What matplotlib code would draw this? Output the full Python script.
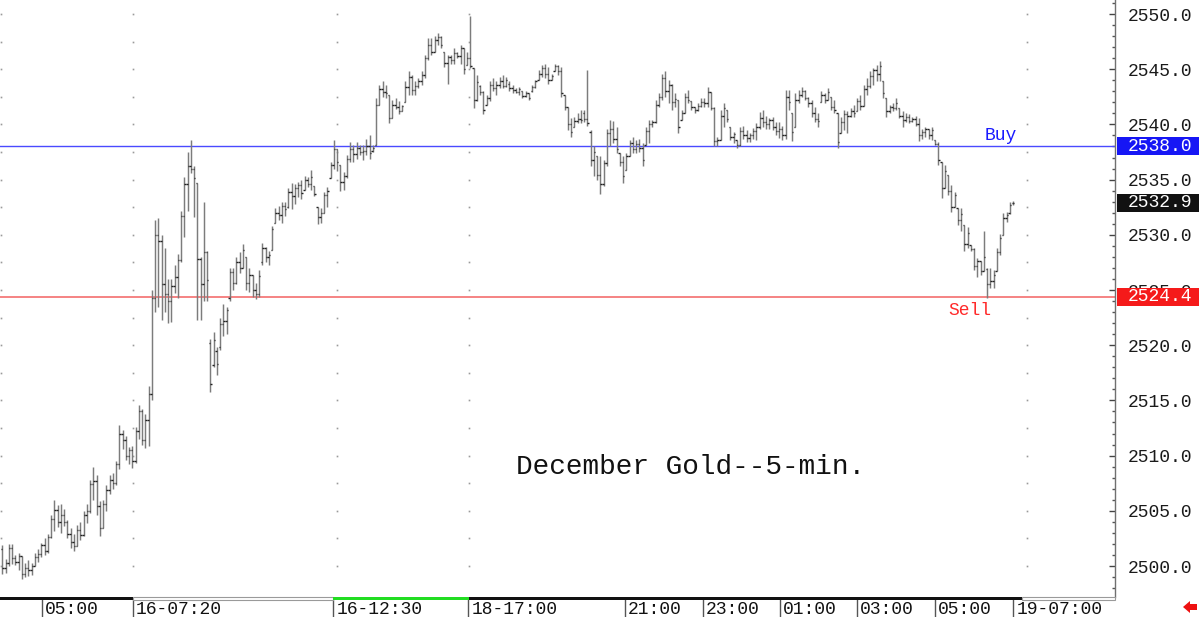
import matplotlib
matplotlib.use("Agg")
import matplotlib.pyplot as plt
import matplotlib.transforms as mtransforms
from matplotlib.collections import LineCollection
from matplotlib.patches import Rectangle, Polygon
from matplotlib.lines import Line2D
from matplotlib.ticker import MultipleLocator
import numpy as np

# ---------------- data (5-min OHLC bars) ----------------
opens = [
    2501.5, 2499.8, 2500.3, 2501.6, 2500.7, 2500.4, 2500.9, 2499.3, 2499.8, 2499.6, 2500.0, 2500.8,
    2501.1, 2501.9, 2501.4, 2502.6, 2504.3, 2505.1, 2504.0, 2504.6, 2504.0, 2502.9, 2502.2, 2501.8,
    2503.3, 2502.8, 2504.6, 2505.0, 2507.4, 2507.7, 2505.4, 2503.4, 2505.6, 2506.9, 2507.8, 2507.5,
    2509.2, 2512.0, 2511.4, 2510.0, 2510.5, 2509.5, 2512.2, 2514.0, 2511.4, 2513.2, 2515.6, 2524.3,
    2530.0, 2529.4, 2525.5, 2524.6, 2524.0, 2525.4, 2526.2, 2527.7, 2531.7, 2534.6, 2536.2, 2536.0,
    2534.7, 2527.8, 2525.5, 2528.4, 2520.2, 2518.2, 2519.5, 2519.8, 2521.9, 2522.2, 2524.3, 2526.6,
    2525.6, 2527.5, 2527.0, 2528.0, 2525.6, 2526.4, 2525.0, 2524.6, 2527.5, 2528.8, 2528.0, 2528.6,
    2531.1, 2532.0, 2531.8, 2532.6, 2532.5, 2533.9, 2533.5, 2534.2, 2534.5, 2534.1, 2535.0, 2534.6,
    2534.4, 2532.5, 2531.6, 2532.0, 2533.6, 2535.1, 2536.3, 2537.8, 2536.3, 2534.8, 2535.3, 2536.9,
    2537.8, 2537.3, 2537.9, 2537.5, 2537.6, 2538.0, 2537.6, 2538.1, 2541.8, 2543.2, 2542.9, 2542.7,
    2540.6, 2541.8, 2541.6, 2541.2, 2542.0, 2543.4, 2544.3, 2543.1, 2543.5, 2543.9, 2544.5, 2546.0,
    2547.2, 2546.6, 2547.6, 2547.9, 2546.6, 2545.6, 2546.1, 2545.8, 2546.5, 2546.2, 2546.9, 2545.4,
    2546.0, 2545.1, 2542.2, 2543.5, 2542.9, 2541.8, 2542.4, 2543.6, 2543.3, 2543.6, 2543.9, 2543.5,
    2543.7, 2543.3, 2543.1, 2542.9, 2543.0, 2542.6, 2542.8, 2543.0, 2543.4, 2544.0, 2544.6, 2545.1,
    2544.6, 2544.0, 2544.8, 2545.3, 2544.8, 2542.7, 2541.6, 2540.0, 2539.8, 2540.3, 2540.5, 2541.0,
    2540.5, 2539.3, 2536.8, 2537.1, 2535.4, 2534.6, 2536.5, 2539.2, 2539.6, 2538.7, 2537.4, 2536.6,
    2535.9, 2537.1, 2538.3, 2537.8, 2538.2, 2537.9, 2538.1, 2539.4, 2540.0, 2540.2, 2541.8, 2542.5,
    2544.2, 2543.0, 2543.6, 2542.0, 2542.2, 2540.4, 2541.0, 2542.5, 2542.1, 2541.6, 2541.3, 2541.7,
    2542.0, 2541.9, 2542.9, 2541.5, 2538.5, 2538.6, 2540.8, 2541.3, 2539.8, 2538.9, 2538.6, 2538.1,
    2539.4, 2539.0, 2538.8, 2539.0, 2539.4, 2539.8, 2540.6, 2540.2, 2540.0, 2540.4, 2539.8, 2539.4,
    2539.6, 2539.0, 2542.5, 2541.0, 2539.8, 2542.2, 2542.7, 2543.0, 2542.4, 2541.9, 2541.0, 2540.5,
    2542.0, 2542.7, 2542.2, 2542.5, 2541.6, 2541.0, 2539.2, 2540.2, 2540.9, 2540.8, 2541.2, 2541.2,
    2542.1, 2541.7, 2543.2, 2543.5, 2544.4, 2544.9, 2544.6, 2543.9, 2542.4, 2541.2, 2541.6, 2541.5,
    2541.5, 2540.8, 2540.4, 2540.7, 2540.3, 2540.5, 2540.0, 2539.0, 2539.3, 2539.6, 2539.0, 2538.6,
    2538.2, 2536.6, 2534.2, 2535.4, 2534.0, 2532.5, 2532.4, 2531.3, 2530.9, 2529.2, 2529.1, 2528.7,
    2527.2, 2527.6, 2526.7, 2526.9, 2525.5, 2525.8, 2526.7, 2528.4, 2530.0, 2531.5, 2532.0, 2532.9,
]
highs = [
    2501.9, 2500.6, 2502.0, 2502.0, 2501.0, 2501.2, 2500.9, 2500.3, 2500.5, 2500.3, 2501.2, 2501.5,
    2502.1, 2502.5, 2502.9, 2504.6, 2506.0, 2505.5, 2505.6, 2505.2, 2504.2, 2503.4, 2502.9, 2503.7,
    2504.0, 2505.0, 2505.6, 2507.8, 2509.0, 2508.2, 2505.9, 2506.0, 2507.3, 2508.2, 2508.4, 2509.5,
    2512.8, 2512.3, 2511.8, 2510.8, 2510.9, 2512.6, 2514.6, 2514.2, 2513.8, 2516.3, 2525.0, 2531.3,
    2531.5, 2530.0, 2528.8, 2526.0, 2526.0, 2527.3, 2528.3, 2532.2, 2535.2, 2537.5, 2538.6, 2536.2,
    2534.7, 2528.0, 2533.0, 2528.5, 2520.6, 2521.2, 2519.8, 2522.5, 2523.7, 2523.5, 2527.0, 2527.0,
    2528.0, 2528.4, 2529.2, 2528.0, 2527.0, 2526.4, 2525.6, 2526.8, 2529.3, 2528.9, 2528.5, 2530.8,
    2532.4, 2532.6, 2533.0, 2533.0, 2534.2, 2534.7, 2534.6, 2534.8, 2535.0, 2535.3, 2535.2, 2535.9,
    2534.4, 2532.5, 2532.4, 2533.9, 2534.3, 2536.6, 2538.6, 2537.8, 2536.3, 2535.7, 2537.2, 2538.4,
    2538.1, 2538.4, 2538.1, 2538.1, 2538.7, 2539.0, 2538.1, 2542.4, 2543.6, 2543.9, 2543.6, 2542.7,
    2542.2, 2542.4, 2542.1, 2541.8, 2543.9, 2544.8, 2544.5, 2543.9, 2544.2, 2544.8, 2546.3, 2547.8,
    2547.8, 2548.0, 2548.3, 2548.0, 2546.6, 2546.3, 2546.3, 2546.9, 2546.6, 2547.2, 2546.9, 2546.6,
    2549.8, 2545.1, 2544.5, 2543.6, 2543.0, 2542.7, 2543.9, 2544.2, 2543.9, 2544.3, 2544.5, 2544.3,
    2543.9, 2543.6, 2543.3, 2543.4, 2543.0, 2543.0, 2542.8, 2543.6, 2544.0, 2544.9, 2545.4, 2545.5,
    2545.2, 2544.6, 2545.5, 2545.4, 2545.2, 2542.7, 2541.6, 2540.6, 2540.7, 2541.0, 2541.3, 2541.3,
    2544.9, 2539.5, 2538.0, 2537.1, 2537.1, 2536.8, 2539.6, 2540.4, 2540.3, 2539.8, 2537.4, 2537.1,
    2537.4, 2538.6, 2538.9, 2538.6, 2538.7, 2538.3, 2539.8, 2540.4, 2540.4, 2542.2, 2542.8, 2544.6,
    2544.8, 2544.0, 2543.7, 2542.8, 2542.2, 2541.3, 2542.8, 2543.1, 2542.1, 2541.6, 2541.9, 2542.4,
    2542.4, 2543.4, 2542.9, 2541.6, 2538.9, 2541.3, 2541.9, 2541.3, 2539.8, 2539.3, 2538.6, 2539.8,
    2539.9, 2539.5, 2539.2, 2539.7, 2540.1, 2541.1, 2541.3, 2540.8, 2540.6, 2540.7, 2540.2, 2540.2,
    2539.9, 2543.1, 2543.1, 2541.0, 2542.8, 2543.1, 2543.4, 2543.1, 2542.5, 2542.2, 2541.6, 2541.0,
    2543.0, 2542.8, 2543.3, 2542.5, 2542.2, 2541.0, 2540.7, 2541.3, 2541.2, 2541.5, 2541.8, 2542.4,
    2542.7, 2543.6, 2544.2, 2544.8, 2545.1, 2545.4, 2545.7, 2543.9, 2542.4, 2541.8, 2541.9, 2542.4,
    2541.5, 2541.2, 2541.0, 2540.9, 2540.7, 2540.8, 2540.6, 2539.6, 2539.8, 2539.6, 2539.8, 2538.6,
    2538.4, 2536.6, 2536.3, 2535.4, 2534.5, 2533.9, 2532.4, 2532.4, 2530.9, 2530.7, 2529.1, 2528.8,
    2527.9, 2527.6, 2530.3, 2527.0, 2527.0, 2526.8, 2528.8, 2530.1, 2532.0, 2532.1, 2533.0, 2533.1,
]
lows = [
    2499.3, 2499.4, 2500.0, 2500.2, 2500.1, 2499.6, 2498.8, 2499.0, 2499.1, 2499.2, 2500.0, 2500.4,
    2500.8, 2501.0, 2501.2, 2502.5, 2503.2, 2503.5, 2503.0, 2503.6, 2502.5, 2501.6, 2501.4, 2501.8,
    2502.4, 2502.7, 2503.9, 2504.8, 2506.0, 2504.6, 2502.7, 2503.4, 2505.0, 2506.5, 2507.0, 2507.3,
    2508.8, 2510.6, 2509.6, 2509.2, 2508.9, 2509.3, 2511.5, 2511.0, 2510.7, 2510.9, 2515.0, 2523.0,
    2523.5, 2522.3, 2523.0, 2522.0, 2522.1, 2524.7, 2524.3, 2527.5, 2529.8, 2532.2, 2535.6, 2531.6,
    2522.3, 2522.3, 2524.0, 2524.0, 2515.8, 2518.0, 2517.3, 2519.6, 2520.8, 2521.0, 2524.0, 2525.0,
    2525.5, 2526.5, 2527.0, 2525.0, 2524.8, 2524.4, 2524.2, 2524.4, 2527.3, 2527.5, 2527.3, 2528.6,
    2531.1, 2531.3, 2531.1, 2531.7, 2532.4, 2532.3, 2532.8, 2533.4, 2533.2, 2534.1, 2534.3, 2534.1,
    2533.5, 2531.0, 2531.1, 2532.0, 2532.5, 2535.1, 2536.0, 2535.8, 2534.0, 2534.1, 2535.1, 2536.6,
    2536.6, 2536.9, 2537.2, 2536.8, 2537.2, 2536.9, 2537.5, 2538.1, 2541.8, 2542.5, 2542.4, 2540.1,
    2540.6, 2541.4, 2540.9, 2541.2, 2542.0, 2542.7, 2542.7, 2542.7, 2543.3, 2543.6, 2544.2, 2545.8,
    2546.3, 2546.6, 2547.2, 2546.9, 2545.2, 2543.7, 2545.5, 2545.5, 2546.0, 2545.5, 2544.6, 2545.4,
    2545.1, 2541.5, 2542.1, 2542.7, 2540.9, 2541.8, 2542.1, 2543.0, 2542.7, 2543.3, 2543.3, 2543.4,
    2543.0, 2542.8, 2542.8, 2542.7, 2542.4, 2542.5, 2542.2, 2542.9, 2543.3, 2544.0, 2544.3, 2544.2,
    2543.7, 2544.0, 2544.8, 2544.5, 2542.5, 2541.3, 2539.5, 2538.9, 2539.8, 2540.1, 2540.1, 2540.2,
    2539.9, 2536.2, 2535.3, 2535.0, 2533.7, 2534.4, 2536.2, 2538.0, 2538.3, 2537.4, 2536.2, 2534.7,
    2535.9, 2537.1, 2537.4, 2537.4, 2537.5, 2536.2, 2538.1, 2538.3, 2539.8, 2540.1, 2541.6, 2542.2,
    2542.5, 2541.9, 2541.3, 2541.6, 2539.2, 2540.4, 2541.0, 2541.9, 2541.3, 2541.0, 2541.2, 2541.6,
    2541.6, 2541.6, 2541.3, 2538.0, 2538.0, 2538.6, 2539.8, 2540.2, 2538.6, 2538.3, 2537.9, 2538.0,
    2538.7, 2538.4, 2538.4, 2538.7, 2538.6, 2539.6, 2539.8, 2539.6, 2539.6, 2539.5, 2539.0, 2538.8,
    2538.6, 2538.7, 2541.3, 2538.5, 2539.8, 2541.9, 2542.5, 2542.2, 2541.6, 2540.7, 2540.2, 2539.8,
    2542.0, 2541.9, 2542.2, 2541.3, 2541.0, 2537.9, 2539.2, 2539.5, 2539.2, 2540.7, 2540.7, 2541.2,
    2541.3, 2541.7, 2542.7, 2543.3, 2543.6, 2543.9, 2543.9, 2542.4, 2540.7, 2541.0, 2541.2, 2541.3,
    2540.6, 2539.8, 2540.2, 2540.1, 2540.2, 2539.9, 2538.5, 2538.7, 2538.9, 2538.7, 2538.6, 2538.1,
    2536.3, 2533.3, 2534.2, 2533.6, 2532.1, 2532.5, 2530.9, 2530.3, 2528.5, 2528.8, 2528.5, 2526.8,
    2526.2, 2526.4, 2526.7, 2524.3, 2525.2, 2525.2, 2526.7, 2528.2, 2530.0, 2531.2, 2531.9, 2532.7,
]
closes = [
    2499.8, 2500.3, 2501.6, 2500.7, 2500.4, 2500.9, 2499.3, 2499.8, 2499.6, 2500.0, 2500.8, 2501.1,
    2501.9, 2501.4, 2502.6, 2504.3, 2505.1, 2504.0, 2504.6, 2504.0, 2502.9, 2502.2, 2501.8, 2503.3,
    2502.8, 2504.6, 2505.0, 2507.4, 2507.7, 2505.4, 2503.4, 2505.6, 2506.9, 2507.8, 2507.5, 2509.2,
    2512.0, 2511.4, 2510.0, 2510.5, 2509.5, 2512.2, 2514.0, 2511.4, 2513.2, 2515.6, 2524.3, 2530.0,
    2529.4, 2525.5, 2524.6, 2524.0, 2525.4, 2526.2, 2527.7, 2531.7, 2534.6, 2536.2, 2536.0, 2535.1,
    2527.8, 2525.5, 2528.4, 2525.9, 2516.5, 2520.5, 2518.3, 2521.9, 2522.2, 2523.2, 2526.6, 2525.6,
    2527.5, 2527.0, 2528.6, 2525.6, 2526.4, 2525.0, 2524.6, 2526.3, 2528.8, 2528.0, 2528.2, 2530.5,
    2532.0, 2531.8, 2532.6, 2532.3, 2533.9, 2533.5, 2534.2, 2534.5, 2533.8, 2535.0, 2534.6, 2535.2,
    2533.7, 2531.6, 2532.0, 2533.6, 2534.0, 2536.3, 2537.8, 2536.6, 2534.8, 2535.3, 2536.9, 2537.8,
    2537.3, 2537.9, 2537.5, 2537.6, 2538.0, 2537.4, 2537.9, 2541.8, 2543.2, 2542.9, 2542.8, 2540.6,
    2541.8, 2541.6, 2541.2, 2541.7, 2543.4, 2544.3, 2543.1, 2543.5, 2543.9, 2544.5, 2546.0, 2547.2,
    2546.6, 2547.6, 2547.9, 2547.2, 2545.6, 2546.1, 2545.8, 2546.5, 2546.2, 2546.9, 2545.0, 2546.0,
    2545.3, 2542.2, 2543.8, 2542.9, 2541.3, 2542.4, 2543.6, 2543.3, 2543.6, 2543.9, 2543.5, 2544.0,
    2543.3, 2543.1, 2542.9, 2543.2, 2542.6, 2542.8, 2542.4, 2543.4, 2543.9, 2544.6, 2545.1, 2544.6,
    2544.0, 2544.4, 2545.3, 2544.8, 2542.8, 2541.6, 2540.0, 2539.3, 2540.3, 2540.5, 2540.4, 2540.5,
    2540.1, 2536.8, 2537.5, 2535.4, 2534.6, 2536.5, 2539.2, 2539.6, 2538.7, 2537.8, 2536.6, 2535.3,
    2537.1, 2538.3, 2537.8, 2538.2, 2537.9, 2536.8, 2539.4, 2540.0, 2540.2, 2541.8, 2542.5, 2544.2,
    2543.0, 2543.6, 2542.0, 2542.3, 2539.8, 2541.0, 2542.5, 2542.2, 2541.6, 2541.3, 2541.7, 2542.0,
    2541.9, 2542.9, 2541.5, 2538.5, 2538.6, 2540.8, 2541.5, 2540.5, 2538.9, 2539.1, 2538.1, 2539.4,
    2539.0, 2538.8, 2539.0, 2539.4, 2539.8, 2540.6, 2540.2, 2540.0, 2540.4, 2539.8, 2539.4, 2539.6,
    2539.0, 2542.5, 2542.0, 2539.3, 2542.2, 2542.7, 2543.0, 2542.4, 2541.9, 2541.0, 2540.5, 2540.3,
    2542.7, 2542.2, 2542.9, 2541.6, 2541.3, 2538.4, 2540.2, 2540.9, 2540.8, 2541.2, 2541.0, 2542.1,
    2541.7, 2543.2, 2543.5, 2544.4, 2544.9, 2544.6, 2545.3, 2542.8, 2541.2, 2541.6, 2541.5, 2541.9,
    2540.8, 2540.4, 2540.7, 2540.3, 2540.5, 2540.0, 2539.0, 2539.3, 2539.6, 2539.0, 2539.5, 2538.2,
    2536.8, 2534.2, 2535.8, 2534.0, 2532.5, 2533.6, 2531.3, 2531.9, 2529.2, 2530.2, 2528.7, 2527.2,
    2527.6, 2526.7, 2528.0, 2525.5, 2525.8, 2526.4, 2528.4, 2529.7, 2531.5, 2531.8, 2532.7, 2532.9,
]

buy_level = 2538.0
sell_level = 2524.4
y_ticks = [2500, 2505, 2510, 2515, 2520, 2525, 2530, 2535, 2540, 2545, 2550]
x_tick_labels = ["05:00", "16-07:20", "16-12:30", "18-17:00", "21:00",
                 "23:00", "01:00", "03:00", "05:00", "19-07:00"]
x_tick_bars = [12.2, 40.2, 101.8, 143.3, 191.6, 215.6, 239.3, 263.0, 287.0, 311.0]
title_text = "December Gold--5-min."

# ---------------- figure ----------------
W, H = 1200, 617
MONO = ["Liberation Mono", "DejaVu Sans Mono"]
fig = plt.figure(figsize=(W / 100, H / 100), dpi=100)
fig.patch.set_facecolor("white")

PLOT_R = 1115   # px, right edge of plot area
PLOT_B = 597    # px (from top), bottom of plot area
ax = fig.add_axes([0, (H - PLOT_B) / H, PLOT_R / W, PLOT_B / H])
ax.set_facecolor("white")

# bar index -> pixel: x = 2.25 + 3.25*i
ax.set_xlim((0 - 2.25) / 3.25, (PLOT_R - 2.25) / 3.25)
ax.set_ylim(2500 - 31 / 11.04, 2550 + 14 / 11.04)

# faint dotted grid columns
grid_cols = [-0.45, 40.2, 103.0, 143.6, 315.3]
grid_levels = np.arange(2500, 2551, 2.5)
for gx in grid_cols:
    ax.plot([gx] * len(grid_levels), grid_levels, ls="none", marker="s",
            ms=1.2, mew=0, color="#9a9a9a", zorder=1)

# reference lines
ax.axhline(buy_level, color="#4a4aff", lw=1.0, zorder=2)
ax.axhline(sell_level, color="#f47a7a", lw=1.3, zorder=2)

# OHLC bars
idx = np.arange(len(closes))
vsegs = [[(i, l), (i, h)] for i, l, h in zip(idx, lows, highs)]
tsegs = [[(i - 0.42, o), (i, o)] for i, o in zip(idx, opens)] + \
        [[(i, c), (i + 0.42, c)] for i, c in zip(idx, closes)]
ax.add_collection(LineCollection(vsegs, colors="#7c7c7c", linewidths=1.05, zorder=3))
ax.add_collection(LineCollection(tsegs, colors="#222222", linewidths=1.0, zorder=4))

# Buy / Sell annotations and title
ax.text(307.3, buy_level + 1.0, "Buy", color="#1a1aff", fontsize=13,
        family=MONO, ha="center", va="center", zorder=5)
ax.text(297.8, sell_level - 1.3, "Sell", color="#ff2a2a", fontsize=13,
        family=MONO, ha="center", va="center", zorder=5)
ax.text(691 / PLOT_R, 1 - 467 / PLOT_B, title_text, transform=ax.transAxes,
        fontsize=20, family=MONO, color="#111111", ha="center", va="center")

# axes styling
for s in ("top", "left", "bottom"):
    ax.spines[s].set_visible(False)
ax.spines["right"].set_color("#707070")
ax.spines["right"].set_linewidth(1.0)
ax.set_xticks([])
ax.yaxis.tick_right()
ax.set_yticks(y_ticks)
ax.set_yticklabels([f"{v:.1f}" for v in y_ticks], family=MONO, fontsize=13, color="#1a1a1a")
ax.yaxis.set_minor_locator(MultipleLocator(1))
ax.tick_params(axis="y", which="major", direction="in", length=4, width=1,
               color="#444444", pad=9, right=True, left=False)
ax.tick_params(axis="y", which="minor", direction="in", length=2.5, width=1,
               color="#555555", right=True, left=False)

# pixel transform (origin top-left)
pxT = mtransforms.Affine2D().scale(1, -1).translate(0, H).scale(1 / W, 1 / H) + fig.transFigure
bxT = mtransforms.blended_transform_factory(pxT, ax.transData)

# price boxes on the right axis
box_h = 18 / 11.04
for val, col in [(buy_level, "#1616f5"), (closes[-1], "#111111"), (sell_level, "#f51a1a")]:
    fig.add_artist(Rectangle((1117, val - box_h / 2), 82, box_h, transform=bxT,
                             facecolor=col, edgecolor="none", zorder=6))
    fig.add_artist(plt.Text(1128, val, f"{val:.1f}", transform=bxT, color="white",
                            fontsize=13, family=MONO, ha="left", va="center", zorder=7))

# bottom time strip
def strip(x0, x1, fc, ec="none", lw=0):
    fig.add_artist(Rectangle((x0, 597), x1 - x0, 3, transform=pxT, facecolor=fc,
                             edgecolor=ec, linewidth=lw, zorder=3))

strip(0, 133, "#111111")
strip(133, 333, "white", "#9a9a9a", 0.8)
strip(333, 469, "#22dd22")
strip(469, 1022, "#111111")
strip(1022, 1115, "white", "#9a9a9a", 0.8)

xtT = mtransforms.blended_transform_factory(ax.transData, pxT)
for xb, lab in zip(x_tick_bars, x_tick_labels):
    fig.add_artist(Line2D([xb, xb], [600, 617], transform=xtT, color="#555555", lw=1.0))
    fig.add_artist(plt.Text(xb + 1.0, 609, lab, transform=xtT, fontsize=13, family=MONO,
                            color="#111111", ha="left", va="center"))

# small red arrow at the bottom right
fig.add_artist(Polygon([(1183, 607), (1190, 601), (1190, 604), (1197, 604),
                        (1197, 610), (1190, 610), (1190, 613)], closed=True,
                       transform=pxT, facecolor="#ee1111", edgecolor="none"))

fig.savefig("out.png", dpi=100, facecolor="white")
